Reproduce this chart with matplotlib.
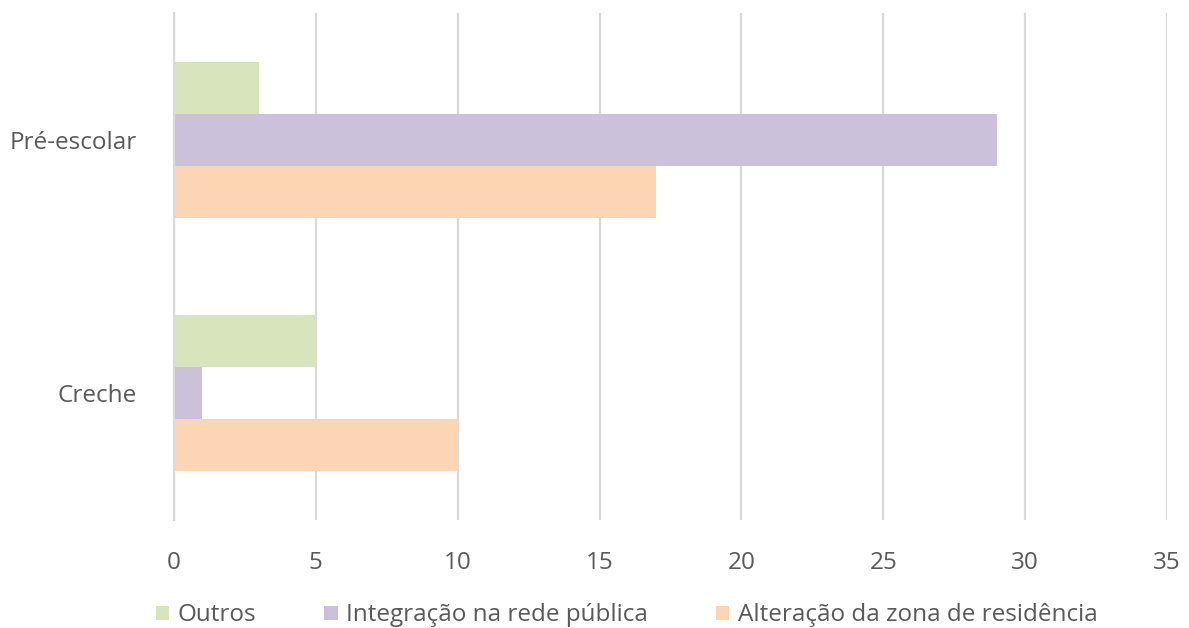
import numpy as np
import matplotlib
matplotlib.use("Agg")
import matplotlib.pyplot as plt

categories = ["Creche", "Pré-escolar"]
series_names = ["Outros", "Integração na rede pública", "Alteração da zona de residência"]
outros = [5, 3]
integracao = [1, 29]
alteracao = [10, 17]
xticks = [0, 5, 10, 15, 20, 25, 30, 35]

colors = ["#D8E4BC", "#CCC1DA", "#FCD5B5"]
text_color = "#595959"

plt.rcParams["font.family"] = ["Open Sans", "DejaVu Sans"]

fig = plt.figure(figsize=(11.89, 6.28), dpi=100)
ax = fig.add_axes([0.1463, 0.172, 0.8352, 0.807])

y = np.arange(len(categories))
h = 0.205
for values, offset, color, name in zip([outros, integracao, alteracao], [h, 0, -h], colors, series_names):
    ax.barh(y + offset, values, height=h, color=color, label=name, zorder=2)

ax.set_xlim(0, 35)
ax.set_ylim(-0.5, 1.5)
ax.set_xticks(xticks)
ax.set_yticks(y)
ax.set_yticklabels(categories)
ax.grid(axis="x", color="#D9D9D9", linewidth=1.6, zorder=0)
ax.set_axisbelow(True)
for s in ["top", "right", "bottom"]:
    ax.spines[s].set_visible(False)
ax.spines["left"].set_color("#D9D9D9")
ax.spines["left"].set_linewidth(1.6)
ax.tick_params(axis="both", length=0, labelsize=17.5, labelcolor=text_color)
ax.tick_params(axis="x", pad=22)
ax.tick_params(axis="y", pad=27)

fig.legend(loc="center", bbox_to_anchor=(0.527, 0.02), ncol=3, frameon=False,
           fontsize=17.5, labelcolor=text_color, handlelength=0.55, handleheight=0.55,
           handletextpad=0.35, columnspacing=2.8)

fig.savefig("out.png", dpi=100)
